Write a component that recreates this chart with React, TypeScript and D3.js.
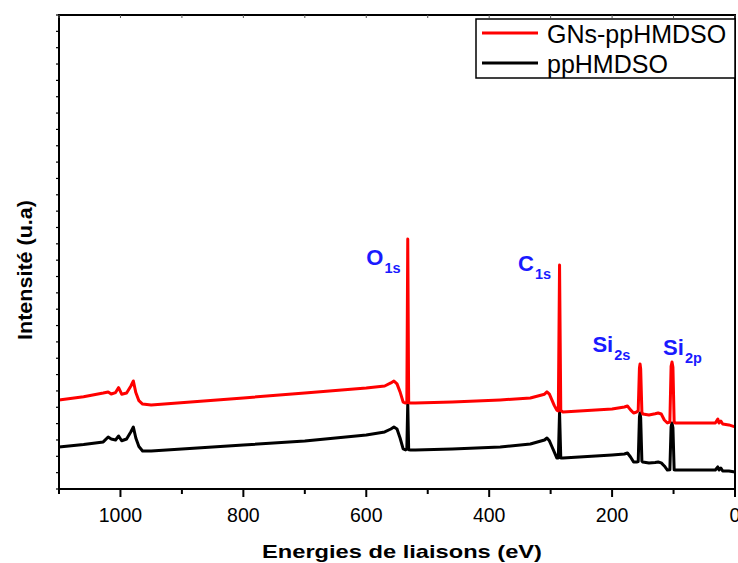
import React from "react";
import * as d3 from "d3";

// ---- data ----
const seriesNames = ["GNs-ppHMDSO", "ppHMDSO"];
const seriesColors = ["#ff0000", "#000000"];

const redEnergy = [1100, 1060, 1028, 1020, 1015, 1008, 1003, 998, 990, 983, 979, 975, 970, 964, 950, 800, 700, 600, 570, 560, 555, 550, 545, 540, 536, 534, 532.5, 531, 528, 520, 460, 382, 333, 310, 306, 302, 298, 294, 290, 287.5, 285.5, 283.5, 280, 200, 180, 175, 170, 165, 160, 157.5, 155.5, 154.5, 153.5, 151.5, 150, 140, 130, 125, 120, 115, 110, 106, 104, 102.5, 101, 99, 97, 60, 32, 28, 26, 23, 20, 10, 0];
const redCounts = [5450, 5650, 5875, 5940, 5810, 5900, 6200, 5800, 5875, 6300, 6610, 5900, 5400, 5200, 5140, 5570, 5875, 6180, 6300, 6490, 6610, 6430, 5940, 5320, 5260, 5300, 15300, 5270, 5260, 5260, 5320, 5450, 5570, 5800, 5940, 5800, 5450, 5100, 4830, 4780, 13700, 4800, 4710, 4900, 5020, 5080, 4840, 4650, 4710, 4800, 7400, 7650, 7350, 4700, 4590, 4530, 4600, 4650, 4590, 4220, 4040, 4100, 7500, 7770, 7450, 4100, 4040, 4040, 4040, 4280, 4040, 4160, 3980, 3920, 3800];

const blackEnergy = [1100, 1060, 1028, 1020, 1015, 1008, 1003, 998, 990, 983, 979, 975, 970, 964, 950, 800, 700, 600, 570, 560, 555, 550, 545, 540, 536, 534, 532.5, 531, 528, 520, 460, 382, 333, 310, 306, 302, 298, 294, 290, 287.5, 285.5, 283.5, 280, 200, 180, 175, 170, 165, 160, 157.5, 155.5, 154.5, 153.5, 151.5, 150, 140, 130, 125, 120, 115, 110, 106, 104, 102.5, 101, 99, 97, 60, 32, 28, 26, 23, 20, 10, 0];
const blackCounts = [2570, 2720, 2880, 3180, 3060, 3000, 3240, 2950, 3060, 3500, 3790, 3120, 2600, 2330, 2330, 2690, 2940, 3300, 3490, 3670, 3790, 3670, 3120, 2450, 2390, 2450, 5260, 2400, 2390, 2390, 2450, 2570, 2750, 3000, 3120, 2950, 2600, 2260, 1900, 1900, 4710, 1900, 1900, 2080, 2140, 2200, 1960, 1650, 1650, 1680, 4400, 4650, 4350, 1700, 1650, 1590, 1620, 1650, 1600, 1410, 1160, 1180, 3800, 4040, 3750, 1180, 1160, 1160, 1160, 1350, 1160, 1285, 1100, 1100, 1040];

const xMajorTicks = [1000, 800, 600, 400, 200, 0];
const xMinorTicks = [1100, 900, 700, 500, 300, 100];

const peakMain = ["O", "C", "Si", "Si"];
const peakSub = ["1s", "1s", "2s", "2p"];
const peakLabelEnergy = [600, 353, 232, 117];
const peakLabelCounts = [13709, 13342, 8384, 8200];

const xTitle = "Energies de liaisons (eV)";
const yTitle = "Intensité (u.a)";

// ---- layout ----
const W = 738, H = 563;
const L = 59, R = 735, T = 15, B = 489;

export default function App() {
  const x = d3.scaleLinear().domain([1100, 0]).range([L, R]);
  const y = d3.scaleLinear().domain([0, 29000]).range([B, T]);
  const line = d3.line<[number, number]>().x(d => x(d[0])).y(d => y(d[1]));
  const redPts = redEnergy.map((e, i) => [e, redCounts[i]] as [number, number]);
  const blackPts = blackEnergy.map((e, i) => [e, blackCounts[i]] as [number, number]);
  const yTicks = d3.range(0, 29001, 1000);
  const topTicks = d3.range(0, 1101, 100);
  const font = "Liberation Sans, Arial, sans-serif";

  return (
    <svg width={W} height={H} style={{ position: "absolute", left: 0, top: 0, background: "#fff" }} fontFamily={font}>
      <rect x={0} y={0} width={W} height={H} fill="#fff" />
      {/* curves */}
      <path d={line(blackPts) || ""} fill="none" stroke={seriesColors[1]} strokeWidth={3} strokeLinejoin="round" />
      <path d={line(redPts) || ""} fill="none" stroke={seriesColors[0]} strokeWidth={3} strokeLinejoin="round" />

      {/* frame */}
      <rect x={L} y={T} width={R - L} height={B - T} fill="none" stroke="#000" strokeWidth={2} />

      {/* left ticks */}
      {yTicks.map(t => (
        <line key={"y" + t} x1={L - 3} x2={L} y1={y(t)} y2={y(t)} stroke="#000" strokeWidth={1.2} />
      ))}
      {/* top ticks */}
      {topTicks.map(t => (
        <line key={"t" + t} x1={x(t)} x2={x(t)} y1={T} y2={T + 3} stroke="#555" strokeWidth={1} />
      ))}
      {/* bottom ticks */}
      {xMajorTicks.map(t => (
        <g key={"M" + t}>
          <line x1={x(t)} x2={x(t)} y1={B} y2={B + 8} stroke="#000" strokeWidth={2} />
          <text x={x(t)} y={522} textAnchor="middle" fontSize={19.5} fill="#000">{t}</text>
        </g>
      ))}
      {xMinorTicks.map(t => (
        <line key={"m" + t} x1={x(t)} x2={x(t)} y1={B} y2={B + 5} stroke="#000" strokeWidth={2} />
      ))}

      {/* axis titles */}
      <text x={402} y={558} textAnchor="middle" fontSize={19} fontWeight="bold" textLength={280} lengthAdjust="spacingAndGlyphs">{xTitle}</text>
      <text transform="translate(32,270) rotate(-90)" textAnchor="middle" fontSize={20} fontWeight="bold" textLength={140} lengthAdjust="spacingAndGlyphs">{yTitle}</text>

      {/* peak labels */}
      {peakMain.map((m, i) => (
        <text key={"p" + i} x={x(peakLabelEnergy[i])} y={y(peakLabelCounts[i])} fill="#1a1aff" fontWeight="bold" fontSize={22}>
          <tspan>{m}</tspan>
          <tspan dx={1} dy={8} fontSize={14.5}>{peakSub[i]}</tspan>
        </text>
      ))}

      {/* legend */}
      <rect x={476} y={19} width={259} height={59} fill="#fff" stroke="#000" strokeWidth={1.5} />
      {seriesNames.map((n, i) => (
        <g key={n}>
          <line x1={482} x2={538} y1={33 + i * 30} y2={33 + i * 30} stroke={seriesColors[i]} strokeWidth={3} />
          <text x={547} y={43 + i * 30} fontSize={25} fill="#000">{n}</text>
        </g>
      ))}
    </svg>
  );
}
